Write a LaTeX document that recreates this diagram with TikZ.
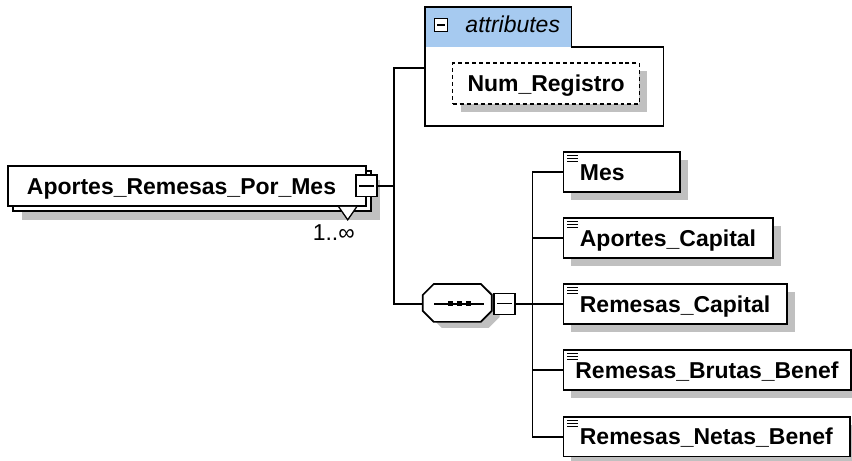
\documentclass[tikz,border=0pt]{standalone}
\usepackage{fontspec}
\setmainfont{Liberation Sans}
\usetikzlibrary{shadows}
\definecolor{tabblue}{RGB}{166,202,240}
\definecolor{shadowgray}{RGB}{192,192,192}
\begin{document}
\begin{tikzpicture}[x=1pt,y=-1pt,line width=1.7pt]
    \tikzstyle{elem} = [draw,fill=white,anchor=west,align=left,minimum height=40,inner xsep=16.5pt,text height=16.5pt,text depth=0pt,font=\bfseries\fontsize{23}{27}\selectfont,drop shadow={shadow xshift=8pt,shadow yshift=-8pt,fill=shadowgray,opacity=1},path picture={\draw[line width=1.1pt] ([xshift=4pt,yshift=-3.5pt]path picture bounding box.north west) -- ++(11,0) ++(-11,3) -- ++(11,0) ++(-11,3) -- ++(11,0);}]
    \tikzstyle{rootelem} = [draw,fill=white,align=left,minimum height=40,inner xsep=19pt,text height=16.5pt,text depth=0pt,font=\bfseries\fontsize{23}{27}\selectfont,drop shadow={shadow xshift=14pt,shadow yshift=-14pt,fill=shadowgray,opacity=1},copy shadow={shadow xshift=5pt,shadow yshift=-5pt,draw=black,fill=white,line width=1.7pt}]
    \tikzstyle{attrelem} = [draw,dash pattern=on 4pt off 3pt,fill=white,minimum width=187,minimum height=41,text height=16.5pt,text depth=0pt,font=\bfseries\fontsize{23}{27}\selectfont,drop shadow={shadow xshift=8pt,shadow yshift=-8pt,fill=shadowgray,opacity=1}]
    \tikzstyle{seqbox} = [minimum width=69,minimum height=38,inner sep=0pt]
    \tikzstyle{toggle} = [draw,fill=white,line width=1.3pt,minimum size=21,inner sep=0pt,path picture={\draw[line width=1.3pt] ([xshift=3pt]path picture bounding box.west) -- ([xshift=-3pt]path picture bounding box.east);}]
        \fill[white] (0,0) rectangle (852,461);
        \fill[tabblue] (425,7) rectangle (572,47);
        \draw (425,7) -- (572,7) -- (572,47) -- (664,47) -- (664,126) -- (425,126) -- cycle;
        \node[toggle,minimum size=13.5,line width=1.2pt] (attrtog) at (441.5,25) {};
        \node[anchor=base west,inner sep=0pt,font=\itshape\fontsize{23}{27}\selectfont] (attrlbl) at (465,33) {attributes};
        \node[attrelem] (numreg) at (546.5,83.5) {Num\_Registro};
        \node[rootelem,text width=320pt] (root) at (187,186) {Aportes\_Remesas\_Por\_Mes};
        \draw[fill=white,line width=1.3pt] (339,207) -- (348,220) -- (357,207);
        \node[toggle,minimum height=22] (roottog) at (root.east) {};
        \node[anchor=base,inner sep=0pt,font=\fontsize{23}{27}\selectfont] (occurs) at (334,241) {1..∞};
        \node[seqbox] (seq) at (458.5,304) {};
        \fill[shadowgray] ([xshift=19pt,yshift=-6pt]seq.north west) -- ++(47,0) -- ++(11,11) -- ++(0,16) -- ++(-11,11) -- ++(-47,0) -- ++(-11,-11) -- ++(0,-16) -- cycle;
        \draw[fill=white] ([xshift=11pt]seq.north west) -- ++(47,0) -- ++(11,11) -- ++(0,16) -- ++(-11,11) -- ++(-47,0) -- ++(-11,-11) -- ++(0,-16) -- cycle;
        \draw[line width=1.5pt] ([xshift=-24pt]seq.center) -- ([xshift=26pt]seq.center);
        \foreach \dx in {-8,1,10}
            \fill ([xshift=\dx pt]seq.center) +(-2.5,-2.5) rectangle +(2.5,2.5);
        \node[toggle,anchor=west] (seqtog) at (seq.east) {};
        \node[elem,text width=84pt] (mes) at (563,172) {Mes};
        \node[elem,text width=177pt] (apcap) at (563,238) {Aportes\_Capital};
        \node[elem,text width=191pt] (remcap) at (563,304) {Remesas\_Capital};
        \node[elem,text width=264pt,inner xsep=12pt] (rembrut) at (563,370.5) {Remesas\_Brutas\_Benef};
        \node[elem,text width=254pt] (remnet) at (563,437) {Remesas\_Netas\_Benef};
        \coordinate (attrin) at (425,68);
        \coordinate (rootbus) at (394,186);
        \coordinate (seqbus) at (533,304);
        \draw (roottog.east) -- (rootbus);
        \draw (attrin) -| (rootbus) |- (seq.west);
        \draw (seqtog.east) -- (remcap.west);
        \draw (mes.west) -| (seqbus) |- (remnet.west);
        \draw (apcap.west) -- (apcap.west -| seqbus);
        \draw (rembrut.west) -- (rembrut.west -| seqbus);
    \end{tikzpicture}
\end{document}
